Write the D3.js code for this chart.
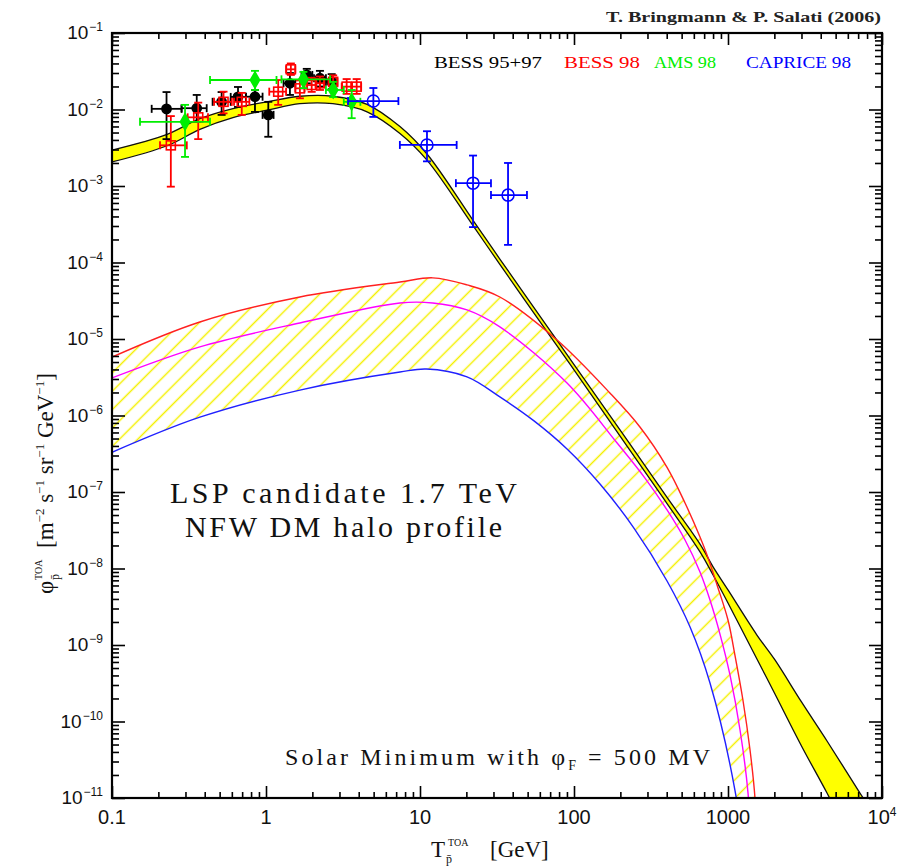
<!DOCTYPE html>
<html>
<head>
<meta charset="utf-8">
<script src="https://cdn.jsdelivr.net/npm/d3@7"></script>
<style>
body { margin: 0; background: #fff; }
svg { display: block; }
</style>
</head>
<body>
<div id="chart"></div>
<script>
// tick labels: [base, superscript]
const xTickValues = [0.1, 1, 10, 100, 1000, 10000];
const xTickText = [["0.1", ""], ["1", ""], ["10", ""], ["100", ""], ["1000", ""], ["10", "4"]];
const yTickExp = [-1, -2, -3, -4, -5, -6, -7, -8, -9, -10, -11];

// secondary background band (yellow, black edges)
const bandE  = [0.1, 0.228, 0.372, 0.61, 1.015, 1.66, 2.72, 4.53, 7.41, 11.1, 22.1, 33, 69.8, 94.2, 221, 400, 658, 800, 1000, 1541, 2018, 3000, 4395, 7194, 10000];
const bandHi = [2.95e-3, 4.74e-3, 7.59e-3, 1.03e-2, 1.26e-2, 1.49e-2, 1.49e-2, 1.17e-2, 5.98e-3, 2.62e-3, 3.56e-4, 1.11e-4, 1.30e-5, 5.51e-6, 4.80e-7, 8.61e-8, 2.08e-8, 1.05e-8, 5.24e-9, 1.35e-9, 6.37e-10, 1.8e-10, 5.56e-11, 1.16e-11, 4.18e-12];
const bandLo = [2.06e-3, 3.36e-3, 5.50e-3, 7.83e-3, 9.79e-3, 1.19e-2, 1.19e-2, 9.33e-3, 4.86e-3, 2.18e-3, 3.03e-4, 9.44e-5, 1.10e-5, 4.69e-6, 3.99e-7, 7.16e-8, 1.65e-8, 8.22e-9, 3.54e-9, 6.56e-10, 2.29e-10, 4.79e-11, 1.16e-11, 1.75e-12, 5.08e-13];

// LSP signal curves (max / median / min)
const redE   = [0.1, 0.372, 1.66, 7.41, 12.1, 20.2, 33, 77.6, 171, 268, 402, 526, 658, 731, 849, 1000, 1109, 1250, 1390, 1497, 1567];
const redPhi = [5.8e-6, 1.67e-5, 3.54e-5, 5.56e-5, 6.3e-5, 5.1e-5, 3.54e-5, 9.7e-6, 1.97e-6, 7.08e-7, 2.1e-7, 7.18e-8, 2.58e-8, 1.5e-8, 6.08e-9, 2.12e-9, 7.39e-10, 1.91e-10, 4.24e-11, 1.0e-11, 1e-12];
const magE   = [0.1, 0.372, 1.66, 7.41, 12.1, 20.2, 33, 90.1, 190, 289, 402, 526, 658, 764, 887, 1030, 1197, 1349, 1432];
const magPhi = [3.1e-6, 7.9e-6, 1.62e-5, 2.96e-5, 2.96e-5, 2.4e-5, 1.44e-5, 2.66e-6, 4.4e-7, 1.52e-7, 5.82e-8, 2.36e-8, 9.0e-9, 3.87e-9, 1.39e-9, 4.06e-10, 7.74e-11, 1.16e-11, 1e-12];
const bluE   = [0.1, 0.372, 1.66, 7.41, 11.0, 20.2, 33, 55, 90.1, 147.5, 245, 402, 567, 764, 1109, 1309];
const bluPhi = [3.3e-7, 9.5e-7, 2.15e-6, 3.7e-6, 4.05e-6, 3.2e-6, 1.75e-6, 8.5e-7, 3.65e-7, 1.27e-7, 3.38e-8, 6.87e-9, 1.72e-9, 3.18e-10, 1.27e-11, 1e-12];

// data points: [E, phi, phiLow, phiHigh, Elow, Ehigh]
const bess9597 = [
  [0.226, 1.02e-2, 4.1e-3, 1.69e-2, 0.181, 0.283],
  [0.355, 1.04e-2, 6.9e-3, 1.55e-2, 0.283, 0.412],
  [0.515, 1.26e-2, 8.5e-3, 1.69e-2, 0.45, 0.59],
  [0.658, 1.46e-2, 1.08e-2, 1.97e-2, 0.59, 0.74],
  [0.848, 1.47e-2, 9.3e-3, 1.8e-2, 0.74, 0.95],
  [1.035, 8.5e-3, 4.4e-3, 1.26e-2, 0.95, 1.12],
  [1.43, 2.2e-2, 1.55e-2, 3.0e-2, 1.3, 1.55],
  [1.84, 2.83e-2, 2.2e-2, 3.4e-2, 1.7, 2.0],
  [2.24, 2.56e-2, 2.0e-2, 3.2e-2, 2.05, 2.45],
  [2.67, 2.3e-2, 1.85e-2, 2.9e-2, 2.45, 2.9]
];
const bess98 = [
  [0.241, 3.4e-3, 9.8e-4, 8.2e-3, 0.205, 0.306],
  [0.363, 7.9e-3, 4.1e-3, 1.23e-2, 0.31, 0.42],
  [0.53, 1.26e-2, 8.9e-3, 1.71e-2, 0.46, 0.6],
  [0.696, 1.26e-2, 8.5e-3, 1.65e-2, 0.62, 0.78],
  [1.2, 1.71e-2, 1.15e-2, 2.43e-2, 1.05, 1.35],
  [1.45, 3.35e-2, 2.83e-2, 4.0e-2, 1.35, 1.55],
  [1.66, 1.89e-2, 1.4e-2, 2.4e-2, 1.55, 1.78],
  [1.98, 2.09e-2, 1.7e-2, 2.6e-2, 1.85, 2.12],
  [2.24, 2.2e-2, 1.8e-2, 2.7e-2, 2.12, 2.38],
  [2.73, 2.3e-2, 1.9e-2, 2.8e-2, 2.55, 2.9],
  [3.34, 1.99e-2, 1.6e-2, 2.5e-2, 3.1, 3.6],
  [3.88, 1.99e-2, 1.6e-2, 2.5e-2, 3.6, 4.15]
];
const ams98 = [
  [0.298, 6.9e-3, 2.4e-3, 1.15e-2, 0.152, 0.433],
  [0.848, 2.43e-2, 1.8e-2, 3.2e-2, 0.433, 1.17],
  [1.75, 2.48e-2, 1.9e-2, 3.1e-2, 1.26, 2.61],
  [2.73, 1.8e-2, 1.45e-2, 2.3e-2, 2.45, 3.2],
  [3.6, 1.26e-2, 7.7e-3, 1.8e-2, 3.2, 4.1]
];
const caprice98 = [
  [4.98, 1.29e-2, 8.0e-3, 1.91e-2, 3.41, 7.24],
  [11.1, 3.44e-3, 2.1e-3, 5.2e-3, 7.4, 17.3],
  [22.1, 1.09e-3, 2.9e-4, 2.5e-3, 17.1, 28.9],
  [37.3, 7.6e-4, 1.7e-4, 2.0e-3, 28.9, 49.5]
];

const legendNames = ["BESS 95+97", "BESS 98", "AMS 98", "CAPRICE 98"];
const legendColors = ["#000000", "#ff0000", "#00ee00", "#0000ff"];

//layout
const margin = { top: 33, left: 112 };
const W = 770, H = 765;

const svg = d3.select("#chart").append("svg").attr("width", 900).attr("height", 866);
const g = svg.append("g").attr("transform", `translate(${margin.left},${margin.top})`);

const x = d3.scaleLog().domain([0.1, 1e4]).range([0, W]);
const y = d3.scaleLog().domain([1e-11, 1e-1]).range([H, 0]);

//smooth curves through the read-off points
const curve = d3.curveCatmullRom.alpha(0.5);
const line = d3.line().x(d => x(d[0])).y(d => y(d[1])).curve(curve);

const redPts = d3.zip(redE, redPhi);
const magPts = d3.zip(magE, magPhi);
const bluPts = d3.zip(bluE, bluPhi);
const bandPts = d3.zip(bandE, bandLo, bandHi);

//defs: plot clip, hatch pattern, region under the red curve
const defs = svg.append("defs");
defs.append("clipPath").attr("id", "plot")
  .append("rect").attr("width", W).attr("height", H);

const pat = defs.append("pattern").attr("id", "hatch")
  .attr("patternUnits", "userSpaceOnUse")
  .attr("width", 13).attr("height", 13)
  .attr("patternTransform", "rotate(45)");
pat.append("line").attr("x1", 6.5).attr("y1", 0).attr("x2", 6.5).attr("y2", 13)
  .attr("stroke", "#f4f000").attr("stroke-width", 1.5);

defs.append("clipPath").attr("id", "underRed")
  .append("path")
  .attr("d", d3.area().x(d => x(d[0])).y0(H + 40).y1(d => y(d[1])).curve(curve)(redPts));

const pg = g.append("g").attr("clip-path", "url(#plot)");

// hatched region between red and blue
pg.append("rect").attr("width", W).attr("height", H)
  .attr("fill", "url(#hatch)").attr("clip-path", "url(#underRed)");
pg.append("path")
  .attr("d", d3.area().x(d => x(d[0])).y0(H + 40).y1(d => y(d[1])).curve(curve)(bluPts))
  .attr("fill", "#fff");

// background band
pg.append("path")
  .attr("d", d3.area().x(d => x(d[0])).y0(d => y(d[1])).y1(d => y(d[2])).curve(curve)(bandPts))
  .attr("fill", "#ffff00");
pg.append("path").attr("d", line(d3.zip(bandE, bandHi)))
  .attr("fill", "none").attr("stroke", "#111").attr("stroke-width", 1.3);
pg.append("path").attr("d", line(d3.zip(bandE, bandLo)))
  .attr("fill", "none").attr("stroke", "#111").attr("stroke-width", 1.3);

// signal curves
[[redPts, "#ff2020"], [magPts, "#ff00ff"], [bluPts, "#2020ff"]].forEach(([pts, col]) => {
  pg.append("path").attr("d", line(pts))
    .attr("fill", "none").attr("stroke", col).attr("stroke-width", 1.4);
});

//error bars + markers
function drawPoints(data, color, marker) {
  const grp = g.append("g").attr("stroke", color).attr("stroke-width", 1.8).attr("fill", "none");
  data.forEach(d => {
    const cx = x(d[0]), cy = y(d[1]);
    const ylo = y(d[2]), yhi = y(d[3]), xlo = x(d[4]), xhi = x(d[5]);
    grp.append("line").attr("x1", cx).attr("x2", cx).attr("y1", ylo).attr("y2", yhi);
    grp.append("line").attr("x1", cx - 4).attr("x2", cx + 4).attr("y1", ylo).attr("y2", ylo);
    grp.append("line").attr("x1", cx - 4).attr("x2", cx + 4).attr("y1", yhi).attr("y2", yhi);
    grp.append("line").attr("x1", xlo).attr("x2", xhi).attr("y1", cy).attr("y2", cy);
    grp.append("line").attr("x1", xlo).attr("x2", xlo).attr("y1", cy - 4).attr("y2", cy + 4);
    grp.append("line").attr("x1", xhi).attr("x2", xhi).attr("y1", cy - 4).attr("y2", cy + 4);
    if (marker == "dot") {
      grp.append("circle").attr("cx", cx).attr("cy", cy).attr("r", 4.5).attr("fill", color);
    } else if (marker == "square") {
      grp.append("rect").attr("x", cx - 4.5).attr("y", cy - 4.5).attr("width", 9).attr("height", 9)
        .attr("fill", "none").attr("stroke-width", 1.6);
    } else if (marker == "diamond") {
      grp.append("path").attr("d", d3.symbol(d3.symbolDiamond, 70)())
        .attr("transform", `translate(${cx},${cy})`).attr("fill", color);
    } else {
      grp.append("circle").attr("cx", cx).attr("cy", cy).attr("r", 6)
        .attr("fill", "none").attr("stroke-width", 1.5);
    }
  });
}
drawPoints(bess9597, legendColors[0], "dot");
drawPoints(bess98, legendColors[1], "square");
drawPoints(ams98, legendColors[2], "diamond");
drawPoints(caprice98, legendColors[3], "circle");

//ticks on all four sides, pointing inward
const xMinor = [], yMinor = [];
d3.range(-1, 4).forEach(e => d3.range(2, 10).forEach(k => xMinor.push(k * Math.pow(10, e))));
d3.range(-11, -1).forEach(e => d3.range(2, 10).forEach(k => yMinor.push(k * Math.pow(10, e))));
const yMajor = yTickExp.map(e => Math.pow(10, e));

function tickAxis(axis, vals, size, tr) {
  const a = g.append("g").attr("transform", tr)
    .call(axis.tickValues(vals).tickSize(-size).tickFormat(""));
  a.select(".domain").remove();
  a.selectAll("line").attr("stroke", "#000").attr("stroke-width", 1.6);
}
tickAxis(d3.axisBottom(x), xTickValues, 12, `translate(0,${H})`);
tickAxis(d3.axisBottom(x), xMinor, 6, `translate(0,${H})`);
tickAxis(d3.axisTop(x), xTickValues, 12, "translate(0,0)");
tickAxis(d3.axisTop(x), xMinor, 6, "translate(0,0)");
tickAxis(d3.axisLeft(y), yMajor, 13, "translate(0,0)");
tickAxis(d3.axisLeft(y), yMinor, 7, "translate(0,0)");
tickAxis(d3.axisRight(y), yMajor, 13, `translate(${W},0)`);
tickAxis(d3.axisRight(y), yMinor, 7, `translate(${W},0)`);

g.append("rect").attr("width", W).attr("height", H)
  .attr("fill", "none").attr("stroke", "#000").attr("stroke-width", 2.2);

//tick labels
const sans = "'Liberation Sans', Arial, sans-serif";
const serif = "'Liberation Serif', 'DejaVu Serif', serif";

xTickValues.forEach((v, i) => {
  const t = g.append("text").attr("x", x(v)).attr("y", H + 26)
    .attr("text-anchor", "middle").attr("font-family", sans).attr("font-size", 20).attr("fill", "#111");
  t.append("tspan").text(xTickText[i][0]);
  if (xTickText[i][1]) t.append("tspan").attr("dy", -8).attr("font-size", 12).text(xTickText[i][1]);
});

yTickExp.forEach(e => {
  const t = g.append("text").attr("x", -9).attr("y", y(Math.pow(10, e)) + 6)
    .attr("text-anchor", "end").attr("font-family", sans).attr("font-size", 19).attr("fill", "#111");
  t.append("tspan").text("10");
  t.append("tspan").attr("dy", -8).attr("dx", 1).attr("font-size", 12).text("\u2212" + Math.abs(e));
});

//title and legend
svg.append("text").attr("x", 881).attr("y", 22).attr("text-anchor", "end")
  .attr("font-family", serif).attr("font-weight", "bold").attr("font-size", 15)
  .attr("textLength", 275).attr("lengthAdjust", "spacingAndGlyphs").attr("fill", "#222")
  .text("T. Bringmann & P. Salati (2006)");

const legendX = [434, 564, 654, 746];
const legendW = [108, 76, 62, 105];
legendNames.forEach((n, i) => {
  svg.append("text").attr("x", legendX[i]).attr("y", 68)
    .attr("font-family", serif).attr("font-size", 17).attr("fill", legendColors[i])
    .attr("textLength", legendW[i]).attr("lengthAdjust", "spacingAndGlyphs")
    .text(n);
});

//annotations
svg.append("text").attr("x", 170).attr("y", 503)
  .attr("font-family", serif).attr("font-size", 30).attr("fill", "#111")
  .attr("textLength", 347).attr("lengthAdjust", "spacing")
  .text("LSP candidate 1.7 TeV");
svg.append("text").attr("x", 185).attr("y", 537)
  .attr("font-family", serif).attr("font-size", 30).attr("fill", "#111")
  .attr("textLength", 317).attr("lengthAdjust", "spacing")
  .text("NFW DM halo profile");

const solar = svg.append("text").attr("x", 285).attr("y", 765)
  .attr("font-family", serif).attr("font-size", 24).attr("fill", "#111");
solar.append("tspan").text("Solar Minimum with \u03c6");
solar.append("tspan").attr("dy", 5).attr("font-size", 14).text("F");
solar.append("tspan").attr("dy", -5).text(" = 500 MV");
solar.attr("textLength", 425).attr("lengthAdjust", "spacing");

//x axis title
const xt = svg.append("text").attr("y", 857).attr("font-family", serif).attr("font-size", 23).attr("fill", "#111");
xt.append("tspan").attr("x", 431).text("T");
xt.append("tspan").attr("x", 446).attr("dy", 6).attr("font-size", 12).text("p\u0304");
xt.append("tspan").attr("x", 448).attr("dy", -17).attr("font-size", 10).text("TOA");
xt.append("tspan").attr("x", 490).attr("dy", 11).text("[GeV]");

//y axis title
const yt = svg.append("text").attr("transform", "translate(53,594) rotate(-90)")
  .attr("font-family", serif).attr("font-size", 23).attr("fill", "#111");
yt.append("tspan").attr("x", 0).text("\u03c6");
yt.append("tspan").attr("x", 14).attr("dy", 6).attr("font-size", 12).text("p\u0304");
yt.append("tspan").attr("x", 14).attr("dy", -17).attr("font-size", 10).text("TOA");
yt.append("tspan").attr("x", 46).attr("dy", 11).text("[m");
yt.append("tspan").attr("dy", -9).attr("font-size", 13).text("\u22122");
yt.append("tspan").attr("dy", 9).text(" s");
yt.append("tspan").attr("dy", -9).attr("font-size", 13).text("\u22121");
yt.append("tspan").attr("dy", 9).text(" sr");
yt.append("tspan").attr("dy", -9).attr("font-size", 13).text("\u22121");
yt.append("tspan").attr("dy", 9).text(" GeV");
yt.append("tspan").attr("dy", -9).attr("font-size", 13).text("\u22121");
yt.append("tspan").attr("dy", 9).text("]");
</script>
</body>
</html>
